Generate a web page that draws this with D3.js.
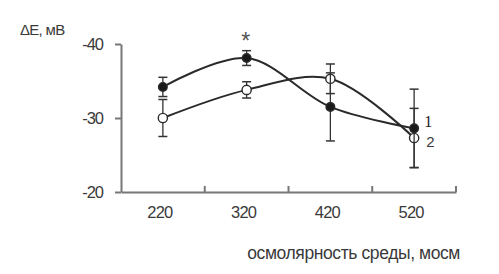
<!DOCTYPE html>
<html>
<head>
<meta charset="utf-8">
<script src="https://cdn.jsdelivr.net/npm/d3@7"></script>
<style>
  html, body { margin: 0; padding: 0; background: #fff; }
  svg { display: block; }
  text { font-family: "Liberation Sans", Arial, Helvetica, sans-serif; fill: #3a3a3a; }
</style>
</head>
<body>
<svg id="chart" width="499" height="274"></svg>
<script>
const categories = ["220", "320", "420", "520"];
const series1 = [-34.2, -38.1, -31.5, -28.6];
const series1Err = [1.3, 1.0, 4.6, 5.3];
const series2 = [-30.0, -33.8, -35.3, -27.3];
const series2Err = [2.5, 1.1, 2.0, 4.0];
const yTicks = [-40, -30, -20];
const seriesLabels = ["1", "2"];

const svg = d3.select("#chart");
const x = d3.scaleBand().domain(categories).range([121, 456]).paddingInner(0).paddingOuter(0);
const y = d3.scaleLinear().domain([-20, -40]).range([192, 44]);
const axisColor = "#777";

// Y axis
const yAxis = svg.append("g").attr("transform", "translate(121,0)")
  .call(d3.axisLeft(y).tickValues(yTicks).tickSize(6).tickSizeOuter(0).tickPadding(12).tickFormat(d => d));
yAxis.select(".domain").attr("stroke", axisColor).attr("stroke-width", 2);
yAxis.selectAll(".tick line").attr("stroke", axisColor).attr("stroke-width", 2);
yAxis.selectAll(".tick text").attr("font-size", 16.5).attr("fill", "#3a3a3a")
  .attr("font-family", "'Liberation Sans', Arial, sans-serif").attr("letter-spacing", -1);

// X axis
const xAxis = svg.append("g").attr("transform", "translate(0,192)")
  .call(d3.axisBottom(x).tickSize(0).tickSizeOuter(0).tickPadding(14));
xAxis.select(".domain").attr("stroke", axisColor).attr("stroke-width", 2);
xAxis.selectAll(".tick text").attr("font-size", 16.5).attr("fill", "#3a3a3a")
  .attr("font-family", "'Liberation Sans', Arial, sans-serif").attr("letter-spacing", -0.8)
  .attr("dx", -3);
// boundary ticks (upward)
const bounds = categories.slice(1).map(c => x(c)).concat([x.range()[1]]);
xAxis.selectAll(".btick").data(bounds).enter().append("line")
  .attr("x1", d => d).attr("x2", d => d).attr("y1", 0).attr("y2", -6)
  .attr("stroke", axisColor).attr("stroke-width", 2);

const cx = c => x(c) + x.bandwidth() / 2;

const line = d3.line().curve(d3.curveCatmullRom.alpha(0.5))
  .x((d, i) => cx(categories[i])).y(d => y(d));

function drawSeries(vals, errs, filled) {
  svg.append("path").attr("d", line(vals)).attr("fill", "none")
    .attr("stroke", "#2a2a2a").attr("stroke-width", 2);
  const g = svg.append("g");
  vals.forEach((v, i) => {
    const px = cx(categories[i]);
    g.append("line").attr("x1", px).attr("x2", px).attr("y1", y(v - errs[i])).attr("y2", y(v + errs[i]))
      .attr("stroke", "#333").attr("stroke-width", 1.3);
    [v - errs[i], v + errs[i]].forEach(e => {
      g.append("line").attr("x1", px - 4.5).attr("x2", px + 4.5).attr("y1", y(e)).attr("y2", y(e))
        .attr("stroke", "#333").attr("stroke-width", 1.5);
    });
  });
  vals.forEach((v, i) => {
    g.append("circle").attr("cx", cx(categories[i])).attr("cy", y(v)).attr("r", filled ? 4.3 : 4.6)
      .attr("fill", filled ? "#1a1a1a" : "#fff").attr("stroke", "#2a2a2a").attr("stroke-width", 1.4);
  });
}
drawSeries(series2, series2Err, false);
drawSeries(series1, series1Err, true);

// series labels
const lastX = cx(categories[categories.length - 1]);
svg.append("text").attr("x", lastX + 10).attr("y", y(series1[3]) - 1).text(seriesLabels[0])
  .attr("font-size", 16).style("font-family", "'Liberation Serif', 'Times New Roman', serif").style("fill", "#222");
svg.append("text").attr("x", lastX + 12).attr("y", y(series2[3]) + 9).text(seriesLabels[1])
  .attr("font-size", 15);

// asterisk
svg.append("text").attr("x", cx(categories[1]) - 1).attr("y", 49).attr("text-anchor", "middle")
  .attr("font-size", 23).style("fill", "#555").text("*");

// axis titles
svg.append("text").attr("x", 20).attr("y", 35).attr("font-size", 15).attr("letter-spacing", -0.7).text("ΔE, мВ");
svg.append("text").attr("x", 460).attr("y", 259).attr("text-anchor", "end").attr("font-size", 17.5)
  .attr("letter-spacing", -0.4).text("осмолярность среды, мосм");
</script>
</body>
</html>
